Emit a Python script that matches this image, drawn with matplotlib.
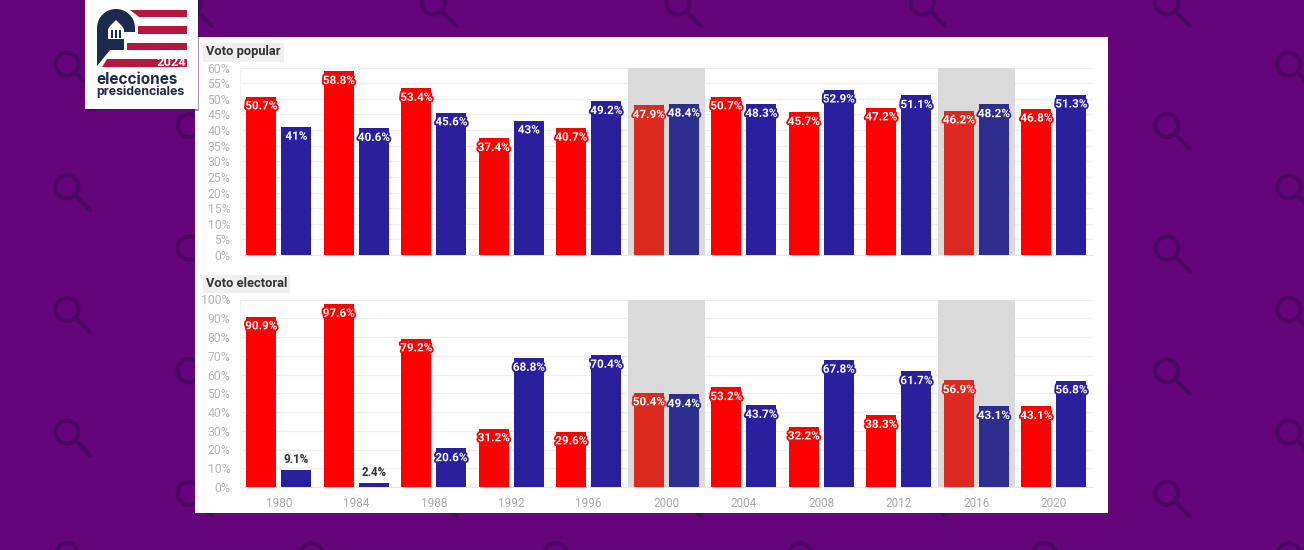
import numpy as np
import matplotlib
matplotlib.use("Agg")
import matplotlib.pyplot as plt
import matplotlib.patheffects as pe
from matplotlib.patches import Rectangle, Polygon, Circle

years = ["1980", "1984", "1988", "1992", "1996", "2000", "2004", "2008", "2012", "2016", "2020"]
popular_red = [50.7, 58.8, 53.4, 37.4, 40.7, 47.9, 50.7, 45.7, 47.2, 46.2, 46.8]
popular_blue = [41, 40.6, 45.6, 43, 49.2, 48.4, 48.3, 52.9, 51.1, 48.2, 51.3]
electoral_red = [90.9, 97.6, 79.2, 31.2, 29.6, 50.4, 53.2, 32.2, 38.3, 56.9, 43.1]
electoral_blue = [9.1, 2.4, 20.6, 68.8, 70.4, 49.4, 43.7, 67.8, 61.7, 43.1, 56.8]
highlight_years = ["2000", "2016"]

W, H = 1304, 550
BG = "#65057A"
ICON = "#4E0766"
RED, BLUE = "#FF0000", "#2A1F9C"
RED_H, BLUE_H = "#DC2A20", "#2E2E8E"
FONT = ["Roboto", "DejaVu Sans"]

plt.rcParams["font.family"] = FONT
fig = plt.figure(figsize=(W / 100, H / 100), dpi=100, facecolor=BG)

# Background layer in pixel coordinates
bg = fig.add_axes([0, 0, 1, 1], zorder=0)
bg.set_xlim(0, W); bg.set_ylim(H, 0); bg.axis("off")
for i in range(-1, 11):
    cx = 67 + 122.2 * i
    for j in range(-1, 10):
        if (i + j) % 2 == 0:
            continue
        cy = 3 + 61.3 * j
        bg.add_patch(Circle((cx, cy), 11.5, fill=False, ec=ICON, lw=3))
        bg.plot([cx + 9, cx + 23], [cy + 9, cy + 23], color=ICON, lw=3, solid_capstyle="round")
# White panel
bg.add_patch(Rectangle((195, 37), 913, 476, fc="white", ec="none", zorder=5))
# Section title chips
bg.add_patch(Rectangle((203, 43), 81, 19, fc="#EFEFEF", ec="none", zorder=6))
bg.text(206.5, 52, "Voto popular", fontsize=9.3, fontweight="bold", color="#333333", va="center", zorder=7)
bg.add_patch(Rectangle((203, 275), 87, 18, fc="#EFEFEF", ec="none", zorder=6))
bg.text(206.5, 283.5, "Voto electoral", fontsize=9.3, fontweight="bold", color="#333333", va="center", zorder=7)


def ax_px(left, top, right, bottom):
    return fig.add_axes([left / W, 1 - bottom / H, (right - left) / W, (bottom - top) / H], zorder=2)


def draw(ax, red, blue, ymax, step, show_years):
    ax.patch.set_alpha(0)
    x = np.arange(len(years))
    for yr in highlight_years:
        k = years.index(yr)
        ax.axvspan(k - 0.5, k + 0.5, color="#DADADA", lw=0, zorder=1)
    rc = [RED_H if y in highlight_years else RED for y in years]
    bc = [BLUE_H if y in highlight_years else BLUE for y in years]
    off, w = 0.226, 0.387
    ax.bar(x - off, red, w, color=rc, zorder=3)
    ax.bar(x + off, blue, w, color=bc, zorder=3)
    ax.set_xlim(-0.5, len(years) - 0.5)
    ax.set_ylim(0, ymax)
    ax.set_yticks(np.arange(0, ymax + 1, step))
    ax.set_yticklabels([f"{v}%" for v in range(0, ymax + 1, step)])
    ax.grid(axis="y", color="#EEEEEE", lw=0.9, zorder=0)
    ax.set_axisbelow(True)
    for s in ["top", "right"]:
        ax.spines[s].set_visible(False)
    ax.spines["left"].set_color("#F2F2F2")
    ax.spines["bottom"].set_color("#E8E8E8")
    ax.tick_params(axis="y", length=0, pad=7, labelsize=8.8, labelcolor="#B4B4B4")
    if show_years:
        ax.set_xticks(x)
        ax.set_xticklabels(years)
        ax.tick_params(axis="x", length=0, pad=7.5, labelsize=8.5, labelcolor="#A8A8A8")
    else:
        ax.set_xticks([])
    for vals, dx, colors in ((red, -off, rc), (blue, off, bc)):
        for xi, v, c in zip(x, vals, colors):
            txt = f"{v:g}%"
            if v < 15:
                ax.annotate(txt, (xi + dx, v), xytext=(0, 2.5), textcoords="offset points",
                            ha="center", va="bottom", fontsize=8.4, fontweight="bold",
                            color="#333333", zorder=5)
            else:
                ax.annotate(txt, (xi + dx, v), xytext=(0, -6.7), textcoords="offset points",
                            ha="center", va="center", fontsize=8.4, fontweight="bold", color="white",
                            path_effects=[pe.withStroke(linewidth=2.6, foreground=c)], zorder=5)


draw(ax_px(240, 67.5, 1092.5, 255), popular_red, popular_blue, 60, 5, False)
draw(ax_px(240, 299.5, 1092.5, 487), electoral_red, electoral_blue, 100, 10, True)

# Logo layer in pixel coordinates
lg = fig.add_axes([0, 0, 1, 1], zorder=4)
lg.set_xlim(0, W); lg.set_ylim(H, 0); lg.axis("off"); lg.patch.set_alpha(0)
lg.add_patch(Rectangle((87, 0), 112, 111, fc="#3A0A48", ec="none", alpha=0.45))
lg.add_patch(Rectangle((85, 0), 113, 109, fc="white", ec="none"))
STRIPE, NAVY = "#B7173F", "#1B2A4E"
for top_left, bottom_left, y0, y1 in [(130, 139, 10, 17), (138, 138, 26, 34), (127, 127, 43, 50), (107, 102, 59, 67)]:
    lg.add_patch(Polygon([(top_left, y0), (187, y0), (187, y1), (bottom_left, y1)], fc=STRIPE, ec="none"))
t = np.linspace(np.pi, 2 * np.pi, 40)
arc = list(zip(116 + 19 * np.cos(t), 28 + 19 * np.sin(t)))
lg.add_patch(Polygon([(97, 66)] + arc + [(135, 32), (124, 32), (124, 50), (110, 50)], fc=NAVY, ec="none"))
lg.add_patch(Polygon([(108, 39), (108, 29), (111, 25), (116, 20), (121, 25), (124, 29), (124, 39)], fc="white", ec="none"))
for bx in (110.5, 114.5, 118.5):
    lg.add_patch(Rectangle((bx, 30), 2.6, 8, fc=NAVY, ec="none"))
lg.text(171.5, 62, "2024", fontsize=9.3, fontweight="bold", color="white", ha="center", va="center")
lg.text(96, 79, "elecciones", fontsize=11, fontweight="bold", color=NAVY, va="center", family=["Inter", "DejaVu Sans"])
lg.text(96, 92, "presidenciales", fontsize=8.9, fontweight="bold", color=NAVY, va="center", family=["Inter", "DejaVu Sans"])

fig.savefig("out.png", dpi=100, facecolor=BG)
